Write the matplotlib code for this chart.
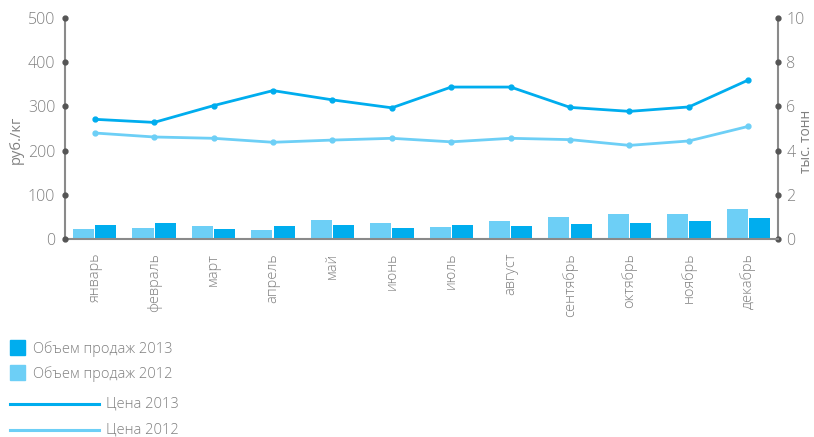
import numpy as np
import matplotlib
matplotlib.use('Agg')
import matplotlib.pyplot as plt
from matplotlib.lines import Line2D
from matplotlib.patches import Rectangle

plt.rcParams['font.family'] = ['Open Sans', 'DejaVu Sans']
plt.rcParams['font.weight'] = 'light'

# Данные по месяцам
months = ['январь', 'февраль', 'март', 'апрель', 'май', 'июнь',
          'июль', 'август', 'сентябрь', 'октябрь', 'ноябрь', 'декабрь']
price_2013 = [271, 264, 302, 336, 315, 297, 344, 344, 298, 289, 299, 360]
price_2012 = [240, 231, 228, 219, 224, 228, 220, 228, 225, 212, 222, 255]
volume_2013 = [0.63, 0.72, 0.45, 0.59, 0.63, 0.50, 0.63, 0.59, 0.68, 0.72, 0.81, 0.95]
volume_2012 = [0.47, 0.50, 0.59, 0.41, 0.86, 0.72, 0.54, 0.81, 1.00, 1.13, 1.13, 1.36]

left_ticks = [0, 100, 200, 300, 400, 500]
right_ticks = [0, 2, 4, 6, 8, 10]

DARK = '#00adee'
LIGHT = '#6dcff6'
GREY = '#8a8a8a'
TXT = '#808080'
DOT = '#555555'

fig = plt.figure(figsize=(8.14, 4.37), dpi=100)
ax = fig.add_axes([0.0799, 0.453, 0.8759, 0.5055])
ax2 = ax.twinx()

x = np.arange(len(months))
w = 0.355

# Объем продаж — столбцы по правой оси
ax2.bar(x - w / 2 - 0.01, volume_2012, width=w, color=LIGHT, zorder=2)
ax2.bar(x + w / 2 + 0.01, volume_2013, width=w, color=DARK, zorder=2)

# Цены — линии по левой оси
ax.plot(x, price_2013, color=DARK, lw=2.0, marker='o', ms=3.5, zorder=3)
ax.plot(x, price_2012, color=LIGHT, lw=2.0, marker='o', ms=3.5, zorder=3)
ax.set_zorder(ax2.get_zorder() + 1)
ax.patch.set_visible(False)

ax.set_xlim(-0.5, len(months) - 0.5)
ax.set_ylim(0, 500)
ax2.set_ylim(0, 10)
ax.set_yticks(left_ticks)
ax2.set_yticks(right_ticks)
ax.set_xticks(x)
ax.set_xticklabels(months, rotation=90, va='top', ha='center')

for a in (ax, ax2):
    for s in a.spines.values():
        s.set_visible(False)
    a.tick_params(length=0, colors=TXT, labelsize=11.5)
ax.tick_params(axis='x', pad=10, labelsize=10.5)
ax.tick_params(axis='y', pad=7)
ax2.tick_params(axis='y', pad=6)

ax.spines['left'].set_visible(True)
ax.spines['left'].set_color(GREY)
ax.spines['left'].set_linewidth(1.5)
ax.spines['bottom'].set_visible(True)
ax.spines['bottom'].set_color(GREY)
ax.spines['bottom'].set_linewidth(1.5)
ax2.spines['right'].set_visible(True)
ax2.spines['right'].set_color(GREY)
ax2.spines['right'].set_linewidth(1.5)

# точки на делениях осей
ax.plot([0] * len(left_ticks), left_ticks, 'o', color=DOT, ms=3.5,
        transform=ax.get_yaxis_transform(), clip_on=False, zorder=5)
ax2.plot([1] * len(right_ticks), right_ticks, 'o', color=DOT, ms=3.5,
         transform=ax2.get_yaxis_transform(), clip_on=False, zorder=5)

ax.set_ylabel('руб./кг', color=TXT, fontsize=10.5, va='center')
ax.yaxis.set_label_coords(-0.068, 0.45)
ax2.set_ylabel('тыс. тонн', color=TXT, fontsize=10, rotation=90,
               va='center', ha='center')
ax2.yaxis.set_label_coords(1.04, 0.44)

# Легенда
fig.patches.append(Rectangle((10 / 814, 1 - 355 / 437), 15 / 814, 15 / 437,
                             transform=fig.transFigure, color=DARK))
fig.patches.append(Rectangle((10 / 814, 1 - 380 / 437), 15 / 814, 15 / 437,
                             transform=fig.transFigure, color=LIGHT))
fig.text(33 / 814, 1 - 349 / 437, 'Объем продаж 2013', color=TXT,
         fontsize=10.5, va='center')
fig.text(33 / 814, 1 - 374 / 437, 'Объем продаж 2012', color=TXT,
         fontsize=10.5, va='center')
fig.lines.append(Line2D([10 / 814, 99 / 814], [1 - 404 / 437] * 2, color=DARK,
                        lw=2.2, transform=fig.transFigure))
fig.lines.append(Line2D([10 / 814, 99 / 814], [1 - 430 / 437] * 2, color=LIGHT,
                        lw=2.2, transform=fig.transFigure))
fig.text(106 / 814, 1 - 404 / 437, 'Цена 2013', color=TXT,
         fontsize=10.5, va='center')
fig.text(106 / 814, 1 - 430 / 437, 'Цена 2012', color=TXT,
         fontsize=10.5, va='center')

fig.savefig('out.png', dpi=100)
